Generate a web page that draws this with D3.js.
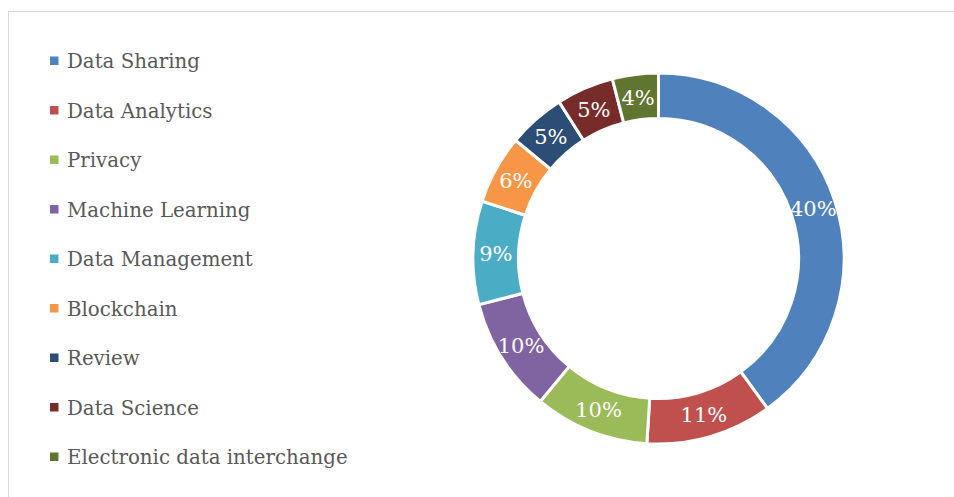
<!DOCTYPE html>
<html>
<head>
<meta charset="utf-8">
<script src="https://cdn.jsdelivr.net/npm/d3@7"></script>
<style>
  body { margin: 0; background: #fff; }
  svg { display: block; }
</style>
</head>
<body>
<div id="chart"></div>
<script>
const categories = ["Data Sharing", "Data Analytics", "Privacy", "Machine Learning",
  "Data Management", "Blockchain", "Review", "Data Science", "Electronic data interchange"];
const values = [40, 11, 10, 10, 9, 6, 5, 5, 4];
const colors = ["#4F81BD", "#C0504D", "#9BBB59", "#8064A2", "#4BACC6",
  "#F79646", "#2C4D75", "#772C2A", "#5F7530"];

const width = 954, height = 497;
const svg = d3.select("#chart").append("svg")
  .attr("width", width)
  .attr("height", height);

// chart area border
svg.append("rect")
  .attr("x", 8.5).attr("y", 11.5)
  .attr("width", width).attr("height", height)
  .attr("fill", "none")
  .attr("stroke", "#d9d9d9")
  .attr("stroke-width", 1);

const cx = 658.5, cy = 258.5, outerR = 185.5, innerR = 140;
const total = d3.sum(values);

const pie = d3.pie().sort(null).value(d => d)(values);
const arc = d3.arc().innerRadius(innerR).outerRadius(outerR);

const g = svg.append("g").attr("transform", "translate(" + cx + "," + cy + ")");
g.selectAll("path")
  .data(pie)
  .enter()
  .append("path")
  .attr("d", arc)
  .attr("fill", (d, i) => colors[i])
  .attr("stroke", "#fff")
  .attr("stroke-width", 3);

g.selectAll("text")
  .data(pie)
  .enter()
  .append("text")
  .attr("transform", d => "translate(" + arc.centroid(d) + ")")
  .attr("text-anchor", "middle")
  .attr("dy", "0.36em")
  .attr("fill", "#fff")
  .style("font-family", "'DejaVu Serif', serif")
  .style("font-size", "21px")
  .text(d => Math.round(d.data / total * 100) + "%");

// legend
const legendY = d3.scalePoint().domain(categories).range([61, 457]);
const legend = svg.append("g")
  .selectAll("g")
  .data(categories)
  .enter()
  .append("g")
  .attr("transform", d => "translate(0," + legendY(d) + ")");
legend.append("rect")
  .attr("x", 50).attr("y", -4.5)
  .attr("width", 8.5).attr("height", 8.5)
  .attr("fill", (d, i) => colors[i]);
legend.append("text")
  .attr("x", 67)
  .attr("dy", "0.36em")
  .attr("fill", "#595959")
  .style("font-family", "'DejaVu Serif', serif")
  .style("font-size", "19.8px")
  .text(d => d);
</script>
</body>
</html>
